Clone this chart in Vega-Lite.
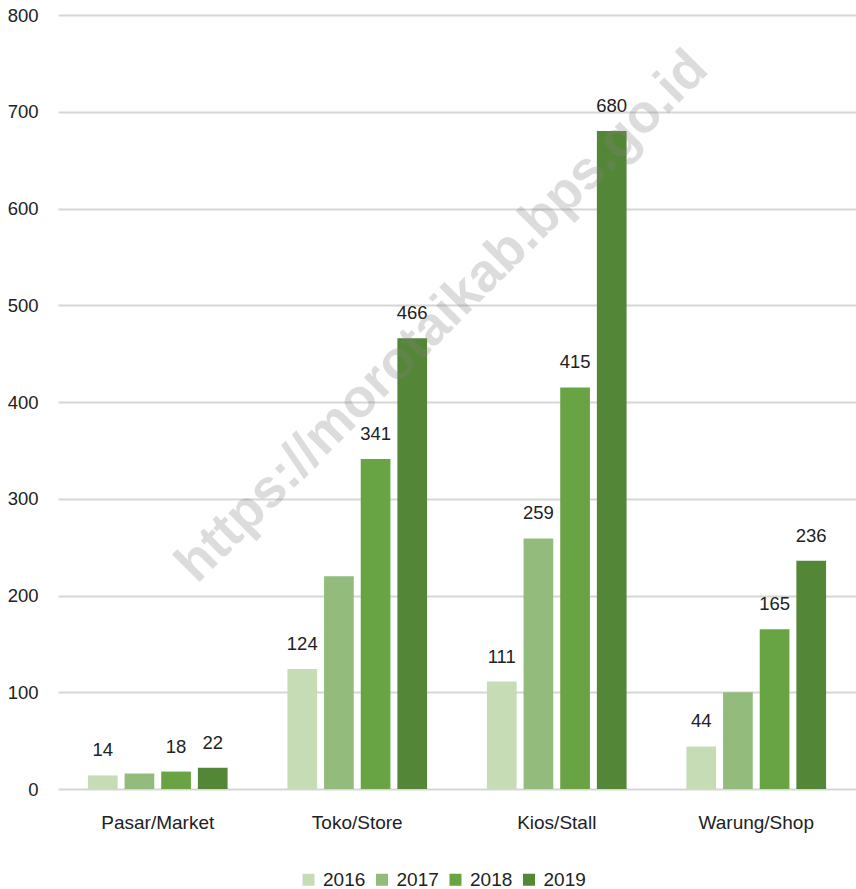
{
  "$schema": "https://vega.github.io/schema/vega-lite/v6.json",
  "width": 798,
  "height": 774,
  "autosize": {"type": "none"},
  "padding": {"left": 58, "top": 15, "right": 0, "bottom": 100},
  "background": "white",
  "config": {
    "font": "Liberation Sans",
    "view": {"stroke": null},
    "axis": {"labelFont": "Liberation Sans", "labelColor": "#222222"}
  },
  "datasets": {
    "outlets": [
      {"category": "Pasar/Market", "year": "2016", "value": 14, "label": "14"},
      {"category": "Pasar/Market", "year": "2017", "value": 16, "label": ""},
      {"category": "Pasar/Market", "year": "2018", "value": 18, "label": "18"},
      {"category": "Pasar/Market", "year": "2019", "value": 22, "label": "22"},
      {"category": "Toko/Store", "year": "2016", "value": 124, "label": "124"},
      {"category": "Toko/Store", "year": "2017", "value": 220, "label": ""},
      {"category": "Toko/Store", "year": "2018", "value": 341, "label": "341"},
      {"category": "Toko/Store", "year": "2019", "value": 466, "label": "466"},
      {"category": "Kios/Stall", "year": "2016", "value": 111, "label": "111"},
      {"category": "Kios/Stall", "year": "2017", "value": 259, "label": "259"},
      {"category": "Kios/Stall", "year": "2018", "value": 415, "label": "415"},
      {"category": "Kios/Stall", "year": "2019", "value": 680, "label": "680"},
      {"category": "Warung/Shop", "year": "2016", "value": 44, "label": "44"},
      {"category": "Warung/Shop", "year": "2017", "value": 100, "label": ""},
      {"category": "Warung/Shop", "year": "2018", "value": 165, "label": "165"},
      {"category": "Warung/Shop", "year": "2019", "value": 236, "label": "236"}
    ],
    "stamp": [{"text": "https://morotaikab.bps.go.id"}]
  },
  "layer": [
    {
      "data": {"name": "outlets"},
      "encoding": {
        "x": {
          "field": "category",
          "type": "nominal",
          "sort": ["Pasar/Market", "Toko/Store", "Kios/Stall", "Warung/Shop"],
          "scale": {"paddingInner": 0.3, "paddingOuter": 0.15},
          "axis": {"title": null, "labelAngle": 0, "ticks": false, "domain": false, "labelPadding": 24, "labelFontSize": 19, "grid": false}
        },
        "xOffset": {"field": "year", "type": "nominal", "scale": {"paddingInner": 0.19}},
        "y": {
          "field": "value",
          "type": "quantitative",
          "scale": {"domain": [0, 800], "nice": false},
          "axis": {
            "title": null,
            "values": [0, 100, 200, 300, 400, 500, 600, 700, 800],
            "grid": true,
            "gridColor": "#d6d6d6",
            "gridWidth": 2,
            "ticks": false,
            "domain": false,
            "labelPadding": 20,
            "labelFontSize": 18.5
          }
        }
      },
      "layer": [
        {
          "mark": {"type": "bar"},
          "encoding": {
            "color": {
              "field": "year",
              "type": "nominal",
              "scale": {"domain": ["2016", "2017", "2018", "2019"], "range": ["#c5dcb5", "#93bb7c", "#68a344", "#548637"]},
              "legend": {
                "orient": "none",
                "legendX": 241,
                "legendY": 855,
                "direction": "horizontal",
                "title": null,
                "symbolType": "square",
                "symbolSize": 144,
                "symbolStrokeWidth": 0,
                "labelFontSize": 19,
                "labelColor": "#222222",
                "labelOffset": 5,
                "columnPadding": 6.5
              }
            }
          }
        },
        {
          "mark": {"type": "text", "baseline": "alphabetic", "dy": -19, "fontSize": 18.5, "color": "#222222"},
          "encoding": {"text": {"field": "label"}}
        }
      ]
    },
    {
      "data": {"name": "stamp"},
      "mark": {"type": "text", "angle": 315, "fontSize": 54, "fontWeight": "bold", "color": "#808080", "opacity": 0.27, "align": "center", "baseline": "middle"},
      "encoding": {
        "x": {"datum": "Toko/Store", "type": "nominal", "bandPosition": 1.11},
        "y": {"datum": 488, "type": "quantitative"},
        "text": {"field": "text"}
      }
    }
  ]
}
